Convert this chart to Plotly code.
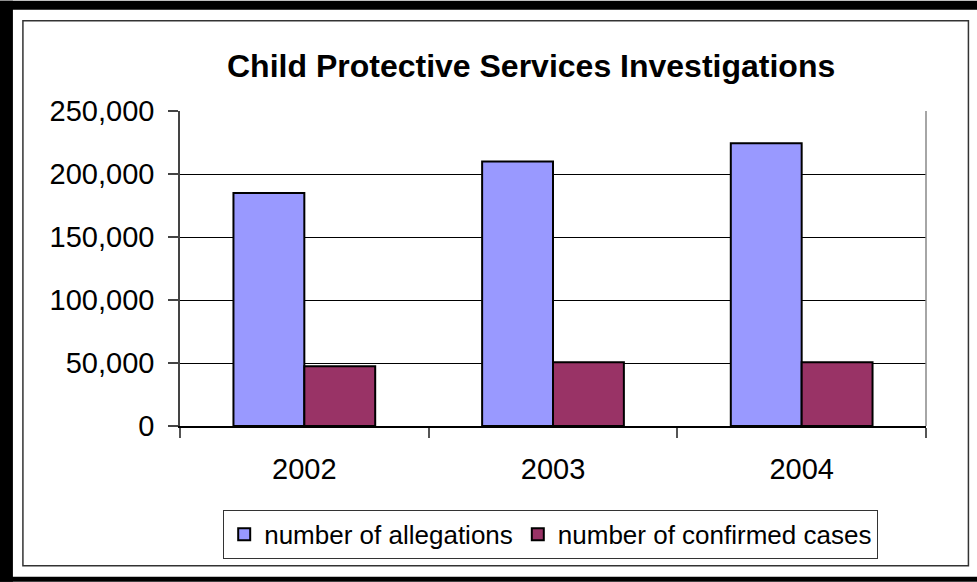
import plotly.graph_objects as go

years = ["2002", "2003", "2004"]
allegations = [185000, 210000, 224500]
confirmed = [47500, 50500, 50500]
y_ticks = [0, 50000, 100000, 150000, 200000, 250000]
y_tick_labels = ["0", "50,000", "100,000", "150,000", "200,000", "250,000"]

W, H = 977, 582
L, R, T, B = 180, 925.6, 110.5, 426.0

def px(x):
    return (x - L) / (R - L)

def py(y):
    return (B - y) / (B - T)

FONT = "Arial, Liberation Sans, Helvetica, sans-serif"

fig = go.Figure()
fig.add_trace(go.Bar(x=years, y=allegations, name="number of allegations",
                     marker=dict(color="#9999FF", line=dict(color="black", width=2))))
fig.add_trace(go.Bar(x=years, y=confirmed, name="number of confirmed cases",
                     marker=dict(color="#993366", line=dict(color="black", width=2))))

shapes = []
# outer thick black border pieces
shapes.append(dict(type="rect", xref="paper", yref="paper", x0=px(0), x1=px(13), y0=py(0), y1=py(582),
                   fillcolor="black", line=dict(width=0), layer="above"))
shapes.append(dict(type="rect", xref="paper", yref="paper", x0=px(0), x1=px(977), y0=py(0), y1=py(9),
                   fillcolor="black", line=dict(width=0), layer="above"))
shapes.append(dict(type="rect", xref="paper", yref="paper", x0=px(0), x1=px(977), y0=py(577), y1=py(582),
                   fillcolor="black", line=dict(width=0), layer="above"))
# inner thin frame
shapes.append(dict(type="rect", xref="paper", yref="paper", x0=px(23), x1=px(968), y0=py(20), y1=py(566),
                   line=dict(color="#333333", width=1.5), fillcolor="rgba(0,0,0,0)", layer="above"))
# right border of plot area
shapes.append(dict(type="line", xref="paper", yref="paper", x0=1, x1=1, y0=0, y1=1,
                   line=dict(color="#888888", width=1.5)))

fig.update_layout(
    width=W, height=H,
    margin=dict(l=L, r=W - R, t=T, b=H - B, pad=0),
    paper_bgcolor="white", plot_bgcolor="white",
    barmode="group", bargap=0.43, bargroupgap=0,
    font=dict(family=FONT, color="black", size=29),
    showlegend=True,
    legend=dict(orientation="h", x=px(550.5), y=py(534.5), xanchor="center", yanchor="middle",
                bordercolor="#333333", borderwidth=1, bgcolor="white",
                font=dict(family=FONT, size=26, color="black"),
                itemsizing="constant", tracegroupgap=0),
    shapes=shapes,
    annotations=[dict(text="<b>Child Protective Services Investigations</b>", xref="paper", yref="paper",
                      x=px(531), y=py(65), xanchor="center", yanchor="middle", showarrow=False,
                      font=dict(family=FONT, size=32, color="black"))],
)

fig.update_xaxes(type="category", showline=True, linecolor="black", linewidth=1.5, mirror=False,
                 ticks="outside", tickson="boundaries", ticklen=10, tickcolor="#555555", tickwidth=1.5,
                 showgrid=False, tickfont=dict(size=29), ticklabelstandoff=16)
fig.update_yaxes(range=[0, 250000], tickvals=y_ticks, ticktext=y_tick_labels,
                 showline=True, linecolor="#444444", linewidth=1.5,
                 ticks="outside", ticklen=10, tickcolor="#444444", tickwidth=1.5,
                 showgrid=True, gridcolor="black", gridwidth=1, zeroline=False,
                 tickfont=dict(size=29), ticklabelstandoff=8)

fig.write_html("out.html", config={"displayModeBar": False},
               post_script="document.body.style.margin='0';")
